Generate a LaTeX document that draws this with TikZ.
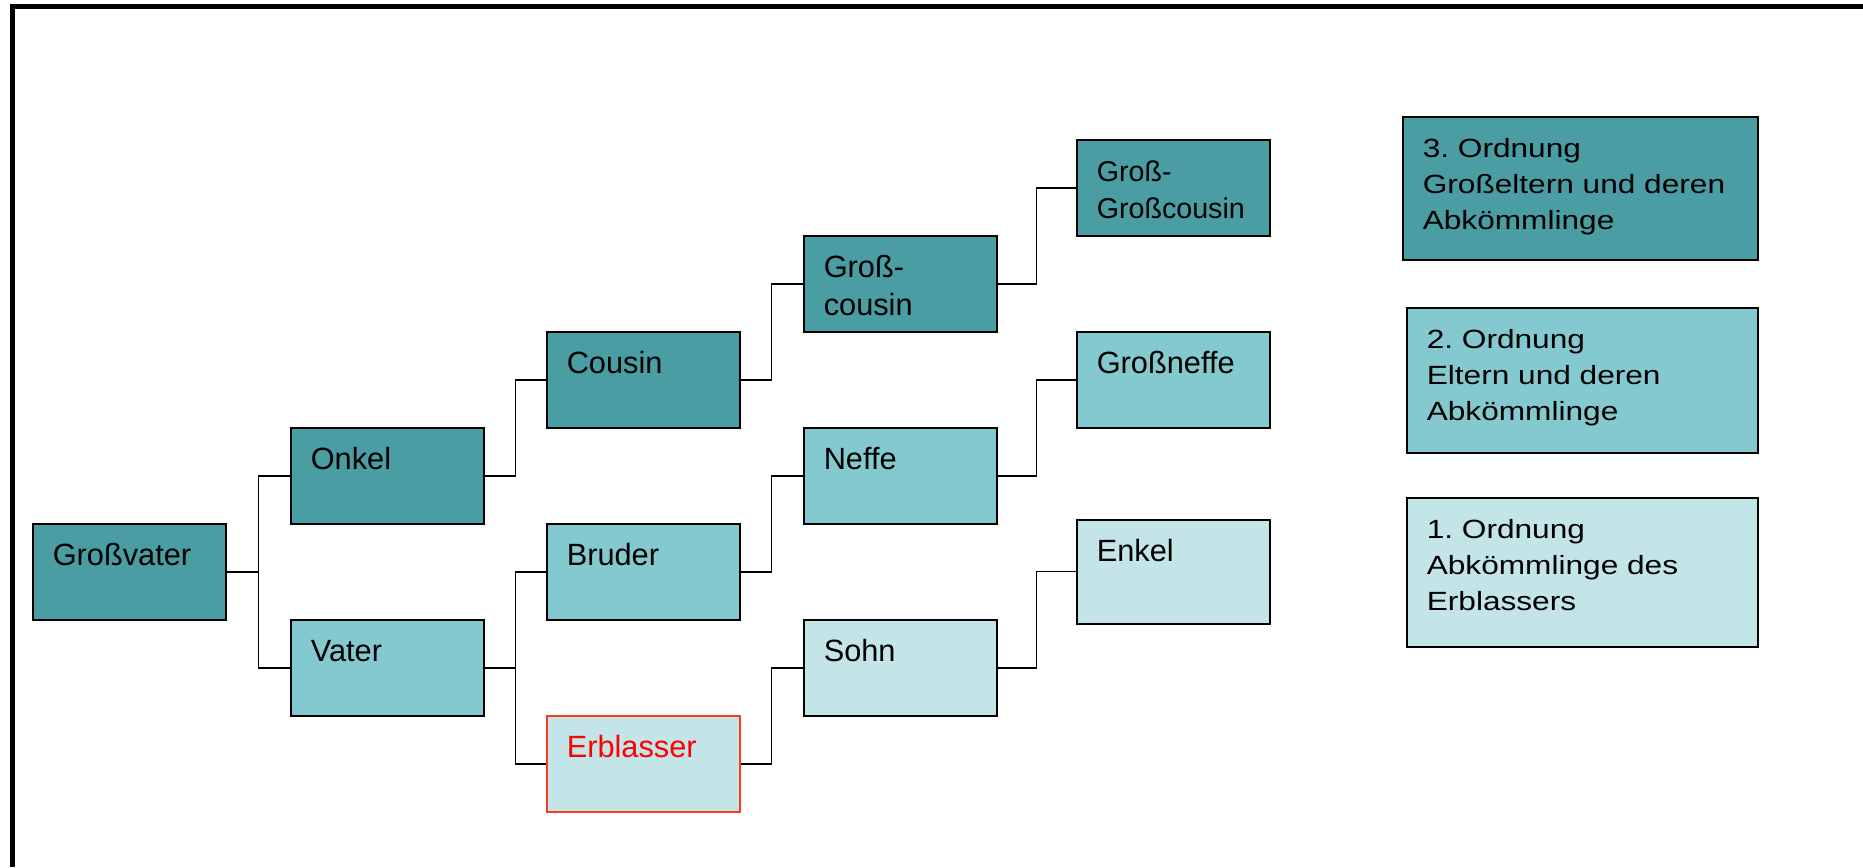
\documentclass[tikz,border=0pt]{standalone}
\usepackage{fontspec}
\setmainfont{Liberation Sans}
\newfontfamily\widefont[FakeStretch=1.2]{Liberation Sans}
\usepackage{tikz}
\usetikzlibrary{calc}
\definecolor{ordn3}{HTML}{4A9DA3}
\definecolor{ordn2}{HTML}{84C9CF}
\definecolor{ordn1}{HTML}{C4E5E8}
\definecolor{erbred}{HTML}{FF3A1A}
\frenchspacing
\tikzset{
  box/.style={draw=black, line width=0.9pt, anchor=north west, inner xsep=0.4cm, inner ysep=0pt,
    text width=3.06cm, align=left, text height=0.84cm, text depth=1.09cm,
    font=\fontsize{17.5}{21.6}\selectfont},
  key/.style={box, text width=6.22cm, text height=0.82cm,
    font=\widefont\fontsize{15}{20.4}\selectfont},
  conn/.style={draw=black, line width=0.8pt},
  frame/.style={draw=black, line width=0.1cm},
}

\begin{document}
\begin{tikzpicture}[x=0.02cm, y=-0.02cm]
  \useasboundingbox (0,0) rectangle (1863,867);
  \draw[frame] (12.5,867) -- (12.5,6.5) -- (1863,6.5);
  % Stammbaum
  \node[box, fill=ordn3] (gv) at (32,523) {Großvater};
  \node[box, fill=ordn3] (onkel) at (290,427) {Onkel};
  \node[box, fill=ordn2] (vater) at (290,619) {Vater};
  \node[box, fill=ordn3] (cousin) at (546,331) {Cousin};
  \node[box, fill=ordn2] (bruder) at (546,523) {Bruder};
  \node[box, fill=ordn1, draw=erbred, text=red] (erbl) at (546,715) {Erblasser};
  \node[box, fill=ordn3] (gcousin) at (803,235) {Groß-\\cousin};
  \node[box, fill=ordn2] (neffe) at (803,427) {Neffe};
  \node[box, fill=ordn1] (sohn) at (803,619) {Sohn};
  \node[box, fill=ordn3, font=\fontsize{16.3}{21}\selectfont] (ggcousin) at (1076,139) {Groß-\\Großcousin};
  \node[box, fill=ordn2] (gneffe) at (1076,331) {Großneffe};
  \node[box, fill=ordn1, text depth=1.24cm] (enkel) at (1076,519) {Enkel};
  \foreach \a/\b in {gv/onkel,gv/vater,onkel/cousin,vater/bruder,vater/erbl,
                     cousin/gcousin,bruder/neffe,erbl/sohn,
                     gcousin/ggcousin,neffe/gneffe,sohn/enkel}
    \draw[conn] (\a.east) -| ($(\a.east)!0.5!(\b.west)$) |- (\b.west);
  % Legende
  \node[key, fill=ordn3, text width=6.3cm, text depth=2.04cm] (o3) at (1402,116) {3. Ordnung\\Großeltern und deren\\Abkömmlinge};
  \node[key, fill=ordn2, text depth=2.08cm] (o2) at (1406,307) {2. Ordnung\\Eltern und deren\\Abkömmlinge};
  \node[key, fill=ordn1, text depth=2.16cm] (o1) at (1406,497) {1. Ordnung\\Abkömmlinge des\\Erblassers};
\end{tikzpicture}
\end{document}
